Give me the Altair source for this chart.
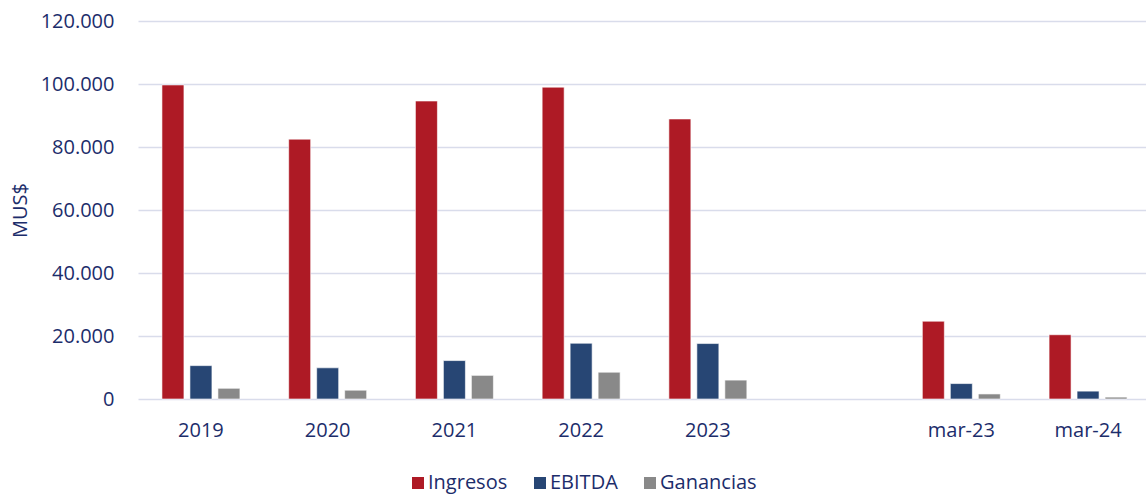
import altair as alt
import pandas as pd

categories = ["2019", "2020", "2021", "2022", "2023", "mar-23", "mar-24"]
domain_x = ["2019", "2020", "2021", "2022", "2023", " ", "mar-23", "mar-24"]
series = ["Ingresos", "EBITDA", "Ganancias"]
ingresos = [99700, 82500, 94600, 99000, 88900, 24700, 20400]
ebitda = [10600, 9900, 12200, 17700, 17600, 4900, 2500]
ganancias = [3400, 2800, 7500, 8500, 6000, 1600, 600]
colors = ["#AE1A25", "#274674", "#898989"]
y_ticks = [0, 20000, 40000, 60000, 80000, 100000, 120000]

rows = []
for name, vals in zip(series, [ingresos, ebitda, ganancias]):
    for c, v in zip(categories, vals):
        rows.append({"cat": c, "serie": name, "valor": v})
df = pd.DataFrame(rows)

text_color = "#1C2D6B"
font = "Open Sans"
fs = 20

chart = alt.Chart(df).mark_bar(stroke="#ffffff", strokeWidth=0.6).encode(
    x=alt.X("cat:N", sort=domain_x,
            scale=alt.Scale(domain=domain_x, paddingInner=0.3847, paddingOuter=0.189,
                            range=[0, 1013]),
            axis=alt.Axis(title=None, labelAngle=0, domain=False, ticks=False,
                          labelPadding=21, labelFontSize=fs, labelColor=text_color,
                          labelFont=font)),
    xOffset=alt.XOffset("serie:N", sort=series,
                        scale=alt.Scale(domain=series, paddingInner=0.214, paddingOuter=0)),
    y=alt.Y("valor:Q", scale=alt.Scale(domain=[0, 120000], nice=False),
            axis=alt.Axis(title="MUS$", values=y_ticks, format=",d", domain=False, ticks=False,
                          labelPadding=24, labelFontSize=fs, labelColor=text_color, labelFont=font,
                          titleFontSize=fs, titleFontWeight="normal", titleColor=text_color,
                          titleFont=font, titlePadding=10, gridColor="#D9DCEB", gridWidth=1.5)),
    color=alt.Color("serie:N", sort=series,
                    scale=alt.Scale(domain=series, range=colors),
                    legend=alt.Legend(title=None, orient="none", direction="horizontal",
                                      legendX=270, legendY=452, symbolType="square",
                                      symbolSize=144, symbolStrokeWidth=0, labelFontSize=fs,
                                      labelColor=text_color, labelFont=font, labelOffset=0,
                                      columnPadding=22)),
).properties(
    width=1008, height=378,
    autosize=alt.AutoSizeParams(type="none"),
    padding={"left": 138, "top": 21, "right": 0, "bottom": 97},
).configure(
    locale={"number": {"decimal": ",", "thousands": ".", "grouping": [3], "currency": ["$", ""]}}
).configure_view(stroke=None)

chart.save("out.html", embed_options={"renderer": "svg", "actions": False})
